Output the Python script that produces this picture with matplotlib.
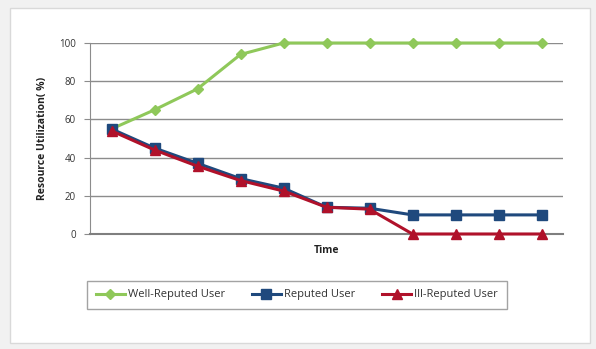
import matplotlib
matplotlib.use("Agg")
import matplotlib.pyplot as plt
from matplotlib.patches import Rectangle

# Data
time_steps = list(range(1, 12))
well_reputed = [55, 65, 76, 94, 100, 100, 100, 100, 100, 100, 100]
reputed = [55, 45, 37, 29, 24, 14, 13.5, 10, 10, 10, 10]
ill_reputed = [54, 44, 35.5, 28, 22.5, 14, 13, 0, 0, 0, 0]
y_ticks = [0, 20, 40, 60, 80, 100]

series_names = ["Well-Reputed User", "Reputed User", "Ill-Reputed User"]
green = "#8FC85A"
blue = "#1F497D"
red = "#B0112A"

plt.rcParams["font.family"] = ["Open Sans", "DejaVu Sans"]

W, H = 596, 349
fig = plt.figure(figsize=(W / 100, H / 100), dpi=100)
fig.patch.set_facecolor("#f1f1f1")

# chart area panel, kept behind the axes
panel = Rectangle((10 / W, 1 - 343 / H), 580 / W, 335 / H,
                  transform=fig.transFigure, facecolor="white",
                  edgecolor="#d9d9d9", linewidth=1.0, zorder=-5)
fig.add_artist(panel)

left, right, top, bottom = 90, 563, 43, 234
ax = fig.add_axes([left / W, 1 - bottom / H, (right - left) / W, (bottom - top) / H])
ax.set_facecolor("none")
ax.set_zorder(2)

ax.plot(time_steps, well_reputed, color=green, lw=2.2, marker="D", ms=5.5,
        mec=green, mfc=green, label=series_names[0], zorder=3, clip_on=False)
ax.plot(time_steps, reputed, color=blue, lw=2.2, marker="s", ms=6.5,
        mec=blue, mfc=blue, label=series_names[1], zorder=4, clip_on=False)
ax.plot(time_steps, ill_reputed, color=red, lw=2.2, marker="^", ms=7,
        mec=red, mfc=red, label=series_names[2], zorder=5, clip_on=False)

ax.set_xlim(0.5, 11.5)
ax.set_ylim(0, 100)
ax.set_yticks(y_ticks)
ax.set_yticklabels([str(v) for v in y_ticks], fontsize=7, color="#333333")
ax.set_xticks([])

ax.yaxis.grid(True, color="#8c8c8c", lw=1.0)
ax.set_axisbelow(True)
for s in ["top", "right"]:
    ax.spines[s].set_visible(False)
ax.spines["left"].set_color("#8c8c8c")
ax.spines["bottom"].set_color("#7f7f7f")
ax.spines["bottom"].set_linewidth(1.5)
ax.tick_params(axis="y", length=4, color="#8c8c8c", pad=6)

ax.set_ylabel("Resource Utilization( %)", fontsize=7.5, fontweight="bold",
              color="#222222", labelpad=8)
ax.set_xlabel("Time", fontsize=7.5, fontweight="bold", color="#222222", labelpad=8)

leg = fig.legend(loc="center", bbox_to_anchor=(297 / W, 1 - 295 / H), ncol=3,
                 fontsize=8, frameon=True, fancybox=False, handlelength=2.6,
                 columnspacing=2.4, handletextpad=0.3, borderpad=0.8)
leg.get_frame().set_edgecolor("#8c8c8c")
leg.get_frame().set_linewidth(1.0)
for t in leg.get_texts():
    t.set_color("#333333")

fig.savefig("out.png", dpi=100, facecolor=fig.get_facecolor())
